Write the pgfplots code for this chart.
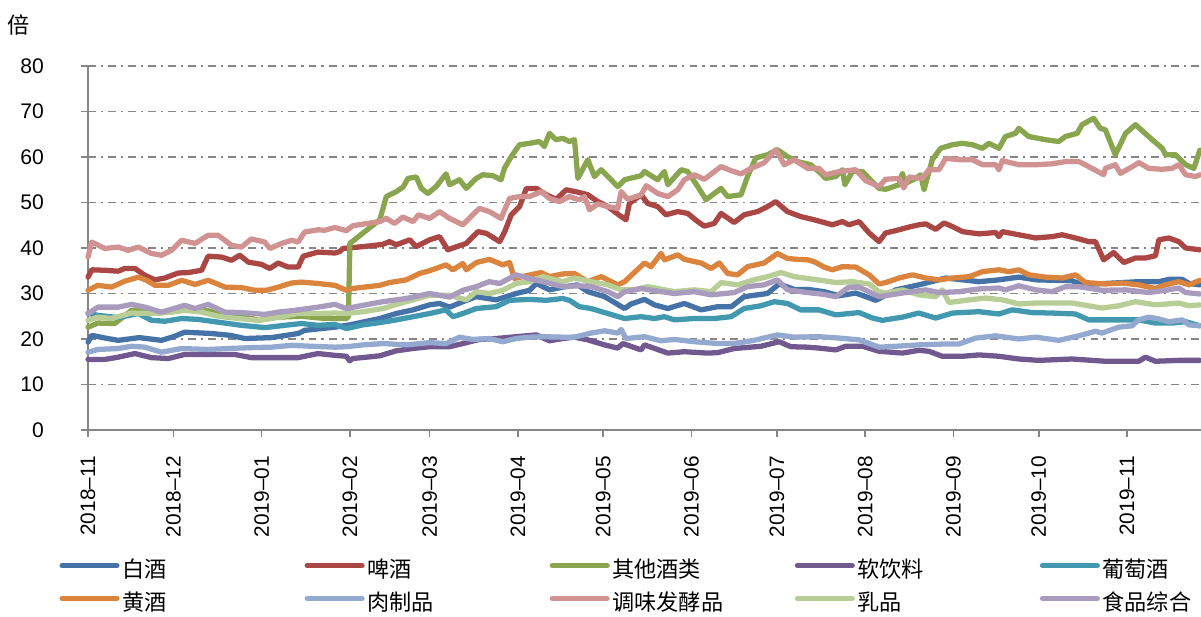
\documentclass[border=0pt]{standalone}
\usepackage{fontspec}
\setmainfont{Liberation Sans}
\newfontfamily\cjk{Noto Sans CJK SC}
\usepackage{pgfplots}
\pgfplotsset{compat=1.18}
\definecolor{axgray}{HTML}{868686}
\definecolor{cBaijiu}{HTML}{4572A7}
\definecolor{cPijiu}{HTML}{AA4643}
\definecolor{cQita}{HTML}{89A54E}
\definecolor{cRuan}{HTML}{71588F}
\definecolor{cPutao}{HTML}{4198AF}
\definecolor{cHuang}{HTML}{DB843D}
\definecolor{cRou}{HTML}{93A9CF}
\definecolor{cTiao}{HTML}{D19392}
\definecolor{cRu}{HTML}{B9CD96}
\definecolor{cShi}{HTML}{A99BBD}
\newcommand{\legtxt}[1]{\makebox[2.43cm][l]{#1}}

\begin{document}
\begin{tikzpicture}
\begin{axis}[name=ax,
  width=14.8274cm, height=4.8492cm, scale only axis,
  xmin=0, xmax=391, ymin=0, ymax=80,
  axis x line*=bottom, axis y line*=left,
  x axis line style={-}, y axis line style={-},
  axis line style={draw=axgray, line width=0.6pt},
  xtick={0,30,61,92,120,151,181,212,242,273,304,334,365},
  xticklabels={2018\textendash11,2018\textendash12,2019\textendash01,2019\textendash02,2019\textendash03,2019\textendash04,2019\textendash05,2019\textendash06,2019\textendash07,2019\textendash08,2019\textendash09,2019\textendash10,2019\textendash11},
  xticklabel style={yshift=-0.03cm, rotate=90, anchor=east, font=\fontsize{7.9pt}{9pt}\selectfont},
  xticklabel shift=0.1cm,
  ytick={0,10,...,80},
  yticklabel style={xshift=-0.17cm, font=\fontsize{8pt}{9pt}\selectfont},
  yticklabel shift=0.2cm,
  /pgf/number format/assume math mode=true,
  tick align=outside, major tick length=0.093cm,
  tick style={draw=axgray, line width=0.6pt},
  ymajorgrids, major grid style={draw=axgray, line width=0.6pt, dash pattern=on 3pt off 1.9pt on 0.8pt off 1.9pt},
  clip=false,
  every axis plot/.append style={line width=2pt, line join=round, line cap=round, mark=none},
  legend columns=5,
  legend style={at={(-0.0261,-0.3585)}, anchor=north west, draw=none, fill=none,
    font=\cjk\fontsize{8.4pt}{10pt}\selectfont, inner sep=0pt,
    nodes={inner sep=0pt, text height=0.22cm, text depth=0.06cm},
    row sep=0.16cm, cells={anchor=west},
    /tikz/every odd column/.append style={column sep=0.035cm}},
  legend image code/.code={\draw[#1] (0cm,0.08cm) -- (0.73cm,0.08cm);},
]
\addplot[cBaijiu] coordinates {(0,19.3)(1.3,20.8)(6,20.2)(10.6,19.7)(18,20.3)(25.8,19.7)(30,20.5)(34,21.5)(43.4,21.2)(50,20.8)(55.1,20.1)(64.4,20.3)(73.8,21.2)(76.1,21.9)(86.7,22.6)(91.9,23.1)(102.5,24.5)(108.3,25.6)(114.2,26.4)(120,27.5)(123.5,27.8)(127,27)(131.7,28.2)(136.4,29.3)(143.4,28.6)(150.4,30)(155.1,30.7)(157.5,32.2)(162.1,30.8)(166.8,31.4)(172,31.9)(175.6,30.4)(181.5,29.3)(188.5,26.7)(190.8,27.7)(195.5,28.7)(199,27.5)(203.7,26.7)(209.5,27.8)(215.4,26.4)(221.2,27.1)(226,27.1)(230.5,29.3)(238.7,30)(242.8,32.1)(248.1,30.9)(252.8,30.9)(258.6,30.4)(263.9,29.5)(269.7,30.1)(276.8,28.5)(283.8,30.8)(291.9,31.9)(301.3,33.4)(307.2,33)(313,32.6)(320,33)(327,33.6)(333,33)(345.7,32.8)(349.2,31.9)(357.4,32.2)(369.1,32.6)(376.2,32.6)(379.7,33.1)(384.4,33.1)(386.8,32.2)(390.6,31.9)};
\addlegendentry{\legtxt{白酒}}
\addplot[cPijiu] coordinates {(0,33.6)(1.3,35.2)(5.9,35.1)(10.6,34.9)(12.9,35.5)(16.5,35.5)(20,34)(23.5,33)(27,33.4)(31.7,34.5)(35.2,34.6)(39.9,35.1)(42.2,38.2)(46.9,38)(50.4,37.3)(53.3,38.4)(56.3,36.9)(60.9,36.4)(63.9,35.5)(66.8,36.7)(70.3,35.8)(73.8,35.8)(75.6,38.2)(80.8,39.1)(86.7,38.9)(88.4,39.2)(89.6,39.9)(96.6,40.3)(103.6,40.8)(105.9,41.4)(108.3,40.7)(113,41.8)(115.3,40.3)(120,41.8)(123.5,42.5)(126.4,39.6)(130.5,40.5)(132.9,41)(137,43.6)(140,43.2)(144.6,41.4)(146.4,43.6)(148.7,47.3)(151.6,49.1)(154,53.1)(157.5,53.1)(161,51.7)(164.5,50.7)(168,52.8)(172.6,52.2)(175.6,51.7)(179.1,50.2)(182.6,49.1)(187.3,46.9)(189,46.2)(190.2,49.8)(194.3,51.7)(196.6,49.8)(200.1,49.1)(203,47.3)(207.2,48)(210.7,47.6)(214.2,45.8)(216.5,44.8)(220,45.4)(222.4,47.6)(227,45.6)(230.5,47.3)(235.2,48)(238.7,49.1)(241.6,50.2)(245.7,48)(250.4,46.9)(255.1,46.2)(258.6,45.6)(261.5,45.1)(265,45.8)(267.3,45.1)(270.9,45.8)(274.4,43.3)(277.9,41.4)(280.2,43.3)(284.9,44)(288.4,44.6)(291.9,45.1)(294.3,45.3)(297.8,44.1)(300.7,45.5)(303.7,44.7)(307.2,43.6)(313,43.1)(318.9,43.4)(320,42.5)(321.2,43.6)(327,42.9)(332.9,42.2)(338.7,42.5)(342.2,42.9)(346.9,42.2)(351.6,41.4)(353.9,41.4)(356.8,37.4)(360.3,39)(363.9,36.8)(368,37.8)(371.5,37.8)(375,38.3)(376.2,41.8)(379.7,42.2)(383.2,41.4)(385.6,40)(390.6,39.6)};
\addlegendentry{\legtxt{啤酒}}
\addplot[cQita] coordinates {(0,22.6)(3.5,23.5)(9.4,23.4)(15.3,26.3)(18.8,26.3)(24.6,25.7)(34,26.4)(42.2,26.2)(48.1,25.2)(53.9,25.2)(59.8,24.1)(66.8,24.8)(75,25)(83.2,24.5)(90.8,24.5)(91.5,25)(92,41)(102.5,46.2)(104.8,51.3)(108.3,52.4)(110.7,53.4)(112.4,55.3)(115.3,55.6)(117.1,53.1)(119.4,52)(122.3,53.5)(125.8,56.3)(127,53.9)(130.5,55)(132.9,53.1)(136.4,55.3)(138.7,56.1)(142.2,55.9)(145.1,55)(146.3,57.5)(148.7,60.1)(151.6,62.7)(155.1,63)(158.6,63.4)(160.3,62.3)(162.1,65.2)(164.4,63.8)(166.8,64.1)(169.1,63.4)(170.9,63.8)(172.1,55.3)(175.6,59.4)(177.9,55.7)(180.3,57.2)(186.1,53.5)(188.5,55)(194.3,55.9)(195.5,56.8)(200.1,55)(202.5,56.8)(203.7,53.9)(208.4,57.2)(210.7,56.8)(214.2,53.5)(217.1,50.6)(222.4,53.1)(224.7,51.3)(229.4,51.7)(231.7,55.7)(234.6,59.8)(238.7,60.5)(242.2,61.6)(245.7,60.1)(249.2,59)(253.9,58.3)(257.4,56.4)(259.1,55.3)(262.7,55.7)(265,57.2)(265.9,53.9)(268.5,56.8)(272.1,56.8)(274.4,55.3)(277.9,53.1)(280.2,52.9)(284.9,53.9)(286.1,56.4)(287.2,54.2)(290.8,55.3)(292.5,56.1)(293.7,52.8)(296.6,59.4)(299.5,61.9)(303.7,62.7)(307.2,63)(310.7,62.7)(314.2,61.9)(316.5,63)(320,61.9)(322.3,64.5)(325.8,65.2)(327,66.3)(330.5,64.5)(336.4,63.8)(341,63.4)(343.4,64.5)(347.5,65.2)(349.2,67.1)(353.3,68.5)(355.6,66.3)(357.4,66)(360.9,60.5)(364.5,65.2)(368,67.1)(372.6,64.5)(377.4,61.9)(378.5,60.5)(382.1,60.5)(385.6,58.3)(388.5,57.5)(390.6,61.5)};
\addlegendentry{\legtxt{其他酒类}}
\addplot[cRuan] coordinates {(0,15.5)(5.9,15.5)(10.6,16)(16.5,16.8)(22.3,15.9)(28.2,15.7)(34,16.6)(42.2,16.6)(51.5,16.6)(57.4,15.9)(66.8,15.9)(73.8,15.9)(80.8,16.8)(86.7,16.4)(90.8,16.2)(91.9,15.2)(93,15.7)(102.5,16.3)(108.3,17.4)(114,17.9)(120,18.3)(127,18.3)(131.7,19)(137.5,19.9)(143.4,20.1)(150.4,20.5)(157.5,20.9)(162.1,19.6)(166.8,20.1)(170.9,20.4)(175.6,19.8)(181.5,18.7)(186.1,18)(187.9,19)(194.3,17.6)(195.5,18.7)(203.7,16.9)(209.5,17.2)(217.7,16.9)(221.2,17)(227,17.9)(236.4,18.4)(242.8,19.4)(246.9,18.3)(252.8,18.2)(256.8,18)(262.7,17.6)(266.2,18.4)(272.1,18.4)(277.9,17.3)(286.1,16.9)(291.9,17.5)(295.4,17.3)(300.1,16.2)(307.2,16.2)(313,16.5)(320,16.2)(327,15.6)(334,15.3)(345.7,15.6)(357.4,15.1)(369.1,15.1)(371.5,16)(375,15.1)(383.2,15.3)(390.6,15.3)};
\addlegendentry{\legtxt{软饮料}}
\addplot[cPutao] coordinates {(0,25.6)(3.5,25.2)(10.6,24.7)(17.7,25.6)(22.3,24.1)(27,23.9)(32.9,24.5)(38.7,24.3)(45.7,23.7)(53.9,23)(62.1,22.5)(69.1,23)(75,23.4)(80.8,23)(86.7,23.2)(90.8,22.3)(96.6,23.1)(102.5,23.6)(108.3,24.2)(114.2,24.9)(120,25.6)(125.8,26.4)(128.2,24.9)(131.7,25.6)(136.4,26.7)(143.4,27.1)(148.1,28.5)(155.1,28.7)(161,28.5)(166.8,28.9)(169.1,28.5)(172.6,27.1)(176.7,26.7)(182.6,25.6)(188.5,24.5)(194.3,24.9)(199,24.5)(202.5,24.9)(206,24.2)(213,24.5)(220,24.5)(225.9,24.9)(230.5,26.7)(236.4,27.3)(241.1,28.2)(245.7,27.8)(250.4,26.4)(256.8,26.4)(262.7,25.3)(270.9,25.8)(275.6,24.6)(279.1,24.1)(286.1,24.8)(291.9,25.7)(297.8,24.6)(303.7,25.7)(313,26)(320,25.5)(324.7,26.4)(331.7,25.8)(338.7,25.7)(346.9,25.5)(351.6,24.2)(357.4,24.2)(364.5,24.2)(369.1,24.2)(375,23.5)(380.8,23.5)(385.6,23.8)(390.6,22.9)};
\addlegendentry{\legtxt{葡萄酒}}
\addplot[cHuang] coordinates {(0,30.7)(3.5,31.8)(8.2,31.4)(12.9,32.7)(17.7,33.6)(20.6,32.9)(23.5,31.8)(28.2,31.8)(32.9,32.9)(37.6,32)(42.2,32.9)(48.1,31.4)(53.9,31.3)(58.6,30.7)(62.7,30.7)(66.8,31.4)(71.5,32.3)(75,32.5)(80.8,32.2)(86.7,31.8)(90.8,30.7)(93,31.1)(102.5,31.8)(105.9,32.4)(111.8,33)(116.5,34.4)(120,35)(125.8,36.3)(128.2,35.2)(131.7,36.6)(132.9,35.2)(136.4,36.8)(141,37.5)(145.7,36.3)(148.1,36.8)(149.8,33.3)(153.9,33.9)(159.2,34.6)(162.1,33.7)(166.8,34.3)(170.9,34.4)(175.6,32.6)(180.3,33.7)(186.1,31.9)(188.5,32.6)(195.5,36.7)(197.8,35.9)(201.3,38.8)(202.5,37.4)(207.2,38.5)(209.5,37.5)(215.4,36.7)(218.9,35.5)(221.8,36.7)(224.7,34.4)(228.2,34.1)(231.7,35.9)(237.5,36.7)(242.2,38.8)(245.7,37.7)(249.2,37.5)(252.8,37.4)(255.1,37)(258.6,35.8)(261.5,35.2)(265,35.9)(269.7,35.8)(274.4,34.1)(277.9,32.1)(280.2,32.4)(284.9,33.4)(289.6,34.1)(294.3,33.4)(299,33)(303.7,33.4)(309.6,33.7)(314.2,34.8)(320,35.2)(323.5,34.8)(327,35.2)(330.5,34.1)(336.4,33.6)(342.2,33.4)(346.9,34.1)(350.4,32.4)(357.4,32.1)(363.3,32.3)(369.1,31.9)(375,31.1)(378.5,31.9)(383.2,32.6)(386.8,31.9)(390.6,32.9)};
\addlegendentry{\legtxt{黄酒}}
\addplot[cRou] coordinates {(0,17.1)(3.5,17.7)(10.6,17.9)(15.3,18.4)(20,18.2)(25.8,17.1)(32.9,17.9)(42.2,17.7)(49.2,17.9)(57.4,18.1)(64.4,18.2)(71.5,18.6)(78.5,18.4)(86.7,18.2)(90.8,18.3)(96.6,18.7)(103.6,19)(111.8,18.7)(120,19.2)(125.8,19)(130.5,20.4)(135.2,19.9)(141,20.1)(145.7,19.4)(150.4,20.1)(155.1,20.4)(159.8,20.5)(166.8,20.4)(170.9,20.4)(176.7,21.3)(181.5,21.8)(186.1,21.3)(187.3,22.1)(189,20.1)(195.5,20.5)(201.3,19.6)(206,19.9)(213,19.4)(221.2,19)(227,19)(234,19.7)(242.2,20.9)(248.1,20.4)(256.8,20.5)(263.9,20.2)(270.9,19.8)(277.9,18.2)(283.8,18.4)(291.9,18.7)(301.3,18.9)(306,18.9)(311.9,20.2)(318.9,20.7)(327,20)(332.9,20.4)(341,19.7)(348.1,20.7)(353.9,21.7)(356.2,21.3)(362.1,22.6)(366.8,22.9)(369.1,24.2)(372.6,24.8)(376.2,24.4)(379.7,23.8)(384.4,24.2)(386.8,23.1)(390.6,22.9)};
\addlegendentry{\legtxt{肉制品}}
\addplot[cTiao] coordinates {(0,38)(1.3,41.3)(5.9,39.9)(10.6,40.2)(14.1,39.5)(17.7,40.2)(22.3,38.8)(25.8,38.4)(29.4,39.5)(32.9,41.7)(37.6,41)(42.2,42.8)(45.7,42.8)(50.4,40.6)(53.9,40.2)(57.4,42)(62.1,41.3)(63.9,39.9)(68,41)(71.5,41.7)(73.8,41.3)(76.1,43.5)(80.8,44)(83.2,43.9)(86.7,44.5)(90.8,43.8)(93,44.9)(102.5,45.8)(104.8,46.5)(107.7,45.4)(110.6,46.8)(114.2,45.8)(116.1,47.3)(120,46.5)(123.5,48)(127,46.5)(131.7,45.1)(135.2,47.3)(137.5,48.7)(141,48)(145.1,46.5)(148.1,50.9)(151.6,51.3)(155.1,51.3)(159.2,52.4)(162.1,50.9)(165.6,50.2)(169.1,51.3)(172.6,50.6)(174.4,51.3)(176.2,48.4)(179.1,49.7)(182.6,49.1)(186.1,48.7)(187.3,52.4)(189.6,50.7)(194.3,51.7)(196.1,53.7)(200.1,52)(203.7,51.3)(207.2,52.8)(209.5,55)(213,56.1)(216.5,55.1)(222.4,57.9)(225.9,57)(229.4,56.3)(232.9,57.5)(237.5,58.7)(241.6,61.6)(244.6,58.3)(248.1,59.4)(252.8,57.5)(256.8,57.5)(259.1,56.1)(263.9,56.8)(269.7,57.2)(273.2,54.8)(277.9,53.5)(280.2,55.1)(284.9,55.3)(286.6,53.2)(288.4,55.6)(293.1,55.3)(295.4,57.2)(299,57.2)(301.3,59.7)(306,59.4)(310.7,59.4)(314.2,58.3)(318.9,58.3)(320,57.2)(321.2,59.2)(327,58.3)(332.9,58.3)(338.7,58.5)(343.4,59)(348.1,59)(352.7,57.5)(356.8,56.1)(357.4,57.5)(360.9,58.3)(362.7,56.4)(368,58.3)(369.1,58.8)(372.6,57.5)(377.4,57.3)(380.8,57.5)(383.2,58.3)(385.6,56.1)(389.1,55.7)(390.6,56.1)};
\addlegendentry{\legtxt{调味发酵品}}
\addplot[cRu] coordinates {(0,24.1)(3.5,24.8)(8.2,24.5)(15.3,25.7)(22.3,25.6)(29.4,25.9)(34,26.3)(39.9,25.9)(45.7,25)(52.7,24.5)(59.8,24.1)(66.8,24.8)(73.8,25.6)(80.8,25.6)(86.7,25.7)(90.8,25.6)(96.6,26)(103.6,26.7)(111.8,28.2)(120,29.6)(127,29.6)(132.9,28.6)(136.4,30.4)(141,30)(145.7,30.7)(150.4,32.2)(155.1,32.6)(159.8,33.7)(166.8,32.6)(170.9,33.4)(176.7,32.6)(182.6,31.9)(187.3,30.8)(192,30.8)(196.6,31.5)(206,30.4)(213,30.8)(218.9,30.4)(222.4,32.4)(228.2,31.9)(234,33)(238.7,33.7)(243.4,34.6)(248.1,33.7)(252.8,33.3)(258.6,32.8)(262.7,32.4)(268.5,32.6)(274.4,32.1)(277.9,30.4)(280.2,30.1)(286.1,30.8)(291.9,29.7)(297.8,29.3)(300.1,30.8)(302.5,28)(309.6,28.6)(315.3,29)(321.2,28.6)(327,27.7)(332.9,27.9)(345.7,27.9)(356.2,26.8)(362.1,27.3)(368,28.2)(375,27.5)(383.2,27.9)(386.8,27.3)(390.6,27.5)};
\addlegendentry{\legtxt{乳品}}
\addplot[cShi] coordinates {(0,25.6)(3.5,27)(10.6,27)(15.3,27.6)(20,27)(25.8,25.9)(34,27.4)(37.6,26.7)(42.2,27.6)(48.1,25.9)(53.9,25.8)(62.1,25.4)(66.8,25.9)(72.7,26.3)(80.8,27)(86.7,27.6)(90.8,26.7)(96.6,27.4)(103.6,28.2)(111.8,28.9)(120,30)(127,29.2)(131.7,30.7)(136.4,31.5)(141,32.6)(144.6,32.2)(150.4,34.1)(155.1,33.3)(159.8,32.6)(166.8,31.5)(172.6,31.7)(176.7,31.5)(182.6,30.4)(186.1,29.3)(188.5,30.4)(194.3,31.1)(201.3,30.4)(206,30)(213,30.4)(218.9,29.7)(227,30.2)(231.7,31.5)(237.5,31.9)(242.2,33)(245.7,30.8)(252.8,30.2)(258.6,29.8)(262.7,29.3)(267.3,31.4)(270.9,31.4)(277.9,29.3)(286.1,30.1)(294.3,30.8)(299,30.2)(306,30.4)(313,31)(320,31.2)(322.3,30.8)(327,31.7)(332.9,30.8)(338.7,30.4)(343.4,31.5)(348.1,31.5)(356.2,30.7)(364.5,30.8)(372.6,30.2)(378.5,30.7)(383.2,31.2)(385.6,30.2)(390.6,29.9)};
\addlegendentry{\legtxt{食品综合}}
\node[anchor=center, font=\cjk\fontsize{8.4pt}{10pt}\selectfont] at (rel axis cs:-0.062,1.1126) {倍};
\end{axis}
\pgfresetboundingbox
\path[use as bounding box] ([shift={(-1.1723cm,-2.4912cm)}]ax.south west) rectangle ([shift={(0cm,0.8793cm)}]ax.north east);
\end{tikzpicture}
\end{document}
